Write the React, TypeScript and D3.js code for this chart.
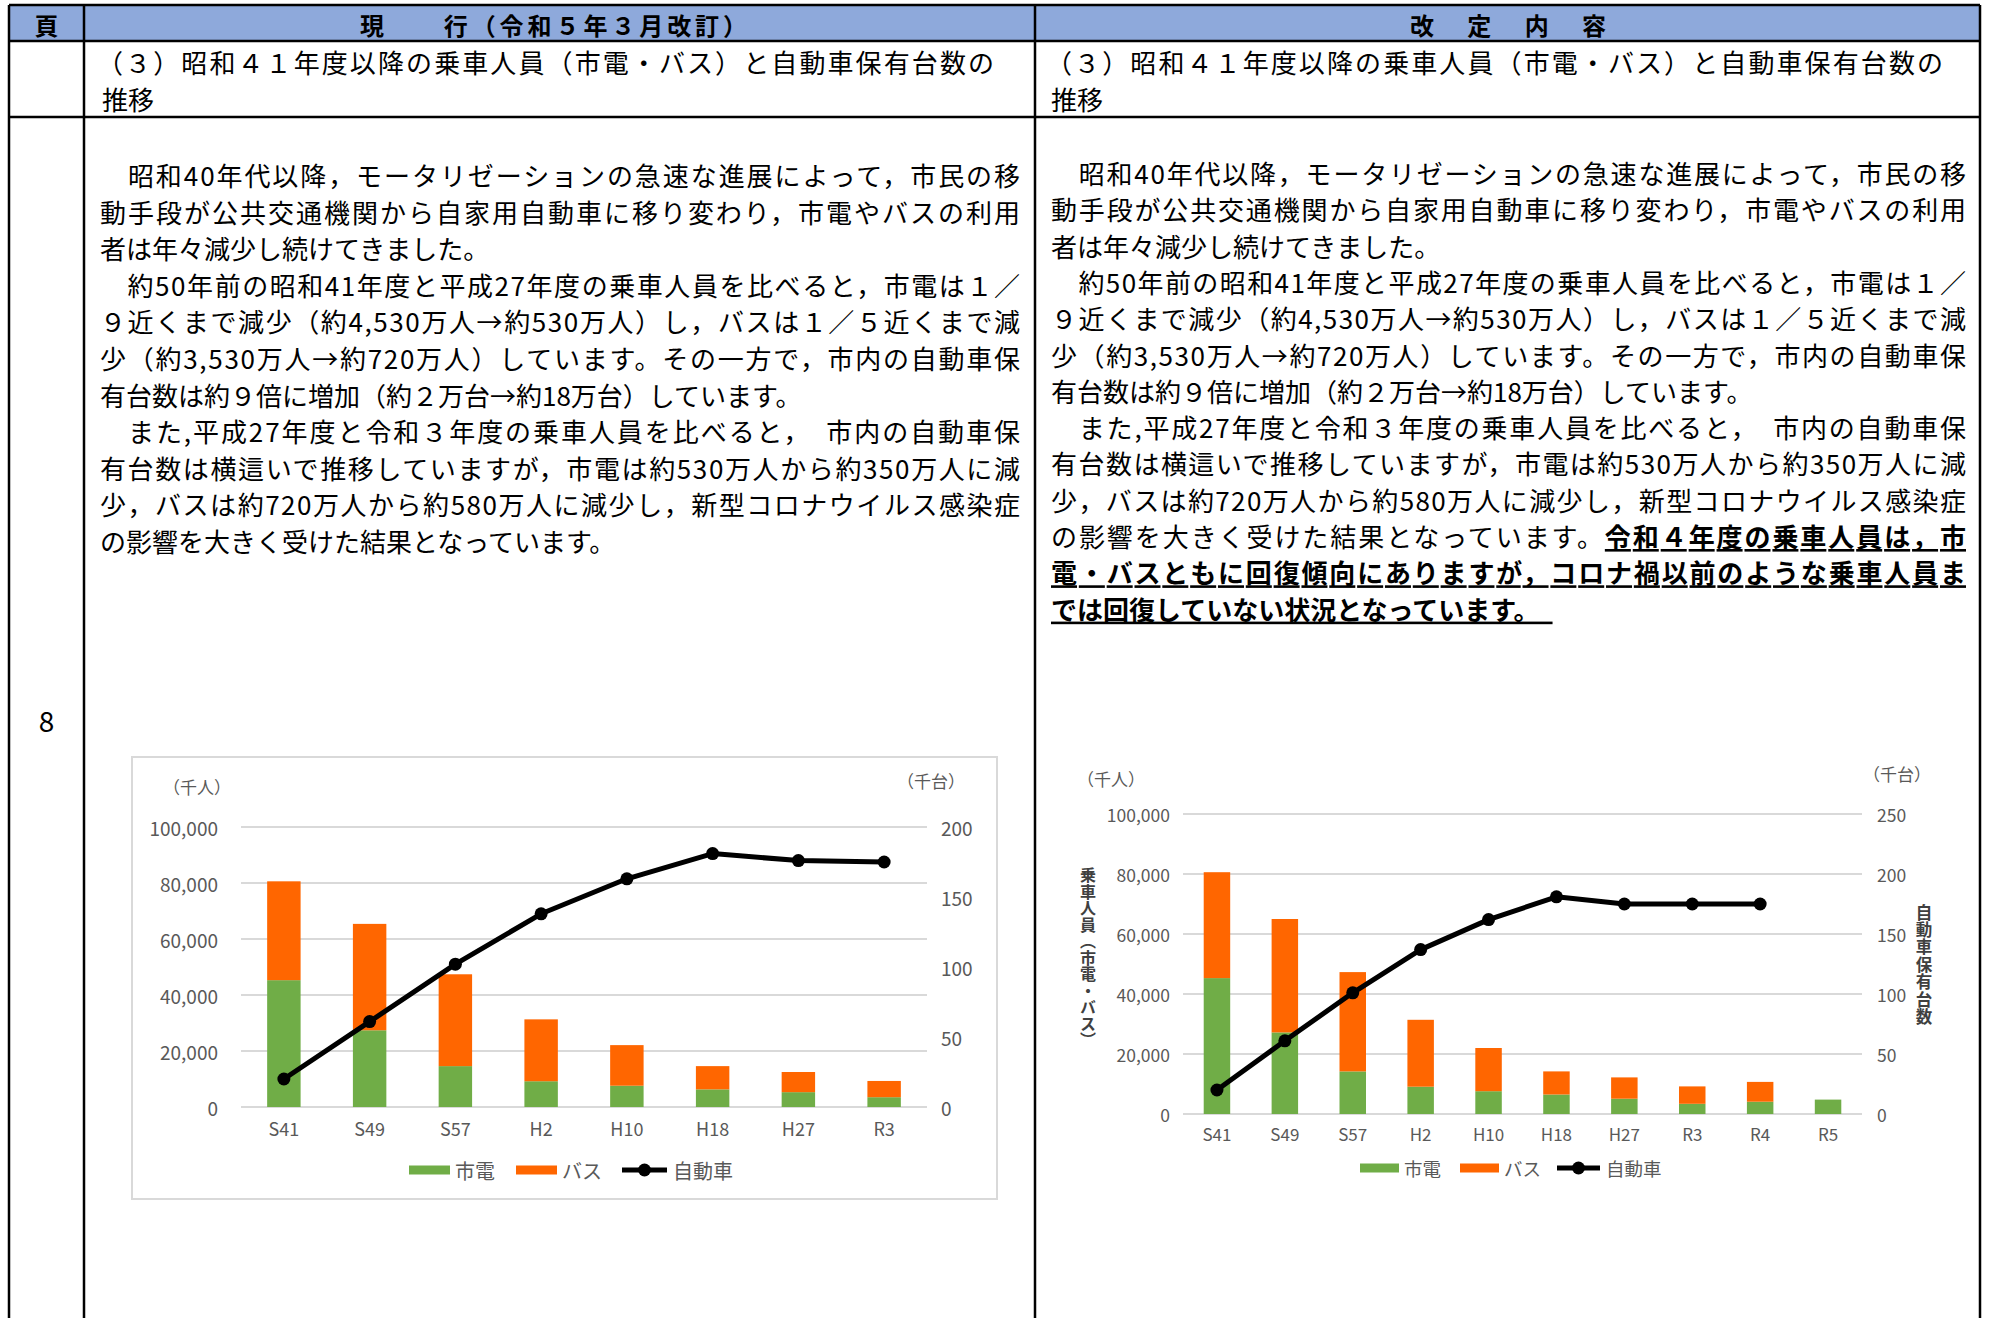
import { useEffect, useRef } from 'react';
import * as d3 from 'd3';

const W = 1991;
const H = 1318;
const JP = '"Noto Sans CJK JP", "Noto Sans", sans-serif';
const GREEN = '#70AD47';
const ORANGE = '#FF6600';
const GRID = '#D9D9D9';
const TICK = '#595959';

// 現行 chart (S41 - R3)
const yearsOld = ['S41', 'S49', 'S57', 'H2', 'H10', 'H18', 'H27', 'R3'];
const tramOld = [45300, 27400, 14600, 9200, 7600, 6300, 5300, 3500];
const busOld = [35300, 38000, 32800, 22100, 14500, 8300, 7200, 5800];
const carsOld = [20, 61, 102, 138, 163, 181, 176, 175];

// 改定 chart (S41 - R5)
const yearsNew = ['S41', 'S49', 'S57', 'H2', 'H10', 'H18', 'H27', 'R3', 'R4', 'R5'];
const tramNew = [45300, 27200, 14200, 9100, 7600, 6500, 5100, 3400, 4100, 4800];
const busNew = [35300, 37800, 33100, 22300, 14400, 7700, 7100, 5800, 6600, 0];
const carsNew: (number | null)[] = [20, 61, 101, 137, 162, 181, 175, 175, 175, null];

const leftTicks = [0, 20000, 40000, 60000, 80000, 100000];

const seriesNames = ['市電', 'バス', '自動車'];

// body text, one entry per printed line
const bodyPara1 = [
  '　昭和40年代以降，モータリゼーションの急速な進展によって，市民の移',
  '動手段が公共交通機関から自家用自動車に移り変わり，市電やバスの利用',
  '者は年々減少し続けてきました。',
];
const bodyPara2 = [
  '　約50年前の昭和41年度と平成27年度の乗車人員を比べると，市電は１／',
  '９近くまで減少（約4,530万人→約530万人）し，バスは１／５近くまで減',
  '少（約3,530万人→約720万人）しています。その一方で，市内の自動車保',
  '有台数は約９倍に増加（約２万台→約18万台）しています。',
];
const bodyPara3 = [
  '　また,平成27年度と令和３年度の乗車人員を比べると，　市内の自動車保',
  '有台数は横這いで推移していますが，市電は約530万人から約350万人に減',
  '少，バスは約720万人から約580万人に減少し，新型コロナウイルス感染症',
  'の影響を大きく受けた結果となっています。',
];
const addedText = [
  '令和４年度の乗車人員は，市',
  '電・バスともに回復傾向にありますが，コロナ禍以前のような乗車人員ま',
  'では回復していない状況となっています。　',
];

const titleLine1 = '（３）昭和４１年度以降の乗車人員（市電・バス）と自動車保有台数の';
const titleLine2 = '推移';

const axisTitleLeft = '乗車人員（市電・バス）';
const axisTitleRight = '自動車保有台数';

interface ChartOpts {
  years: string[];
  tram: number[];
  bus: number[];
  cars: (number | null)[];
  x0: number;
  x1: number;
  yTop: number;
  yBot: number;
  rightMax: number;
  leftLabelX: number;
  rightLabelX: number;
  tickSize: number;
  xLabelY: number;
  xLabelSize: number;
  unitL: [number, number];
  unitR: [number, number];
  legendY: number;
  legendX: [number, number, number]; // swatch starts
  swatchW: number;
  legendSize: number;
}

type Sel = d3.Selection<SVGGElement, unknown, null, undefined>;

function drawChart(root: Sel, o: ChartOpts) {
  const g = root.append('g');
  const x = d3.scaleBand<string>().domain(o.years).range([o.x0, o.x1])
    .paddingInner(0.61).paddingOuter(0.305);
  const y = d3.scaleLinear().domain([0, 100000]).range([o.yBot, o.yTop]);
  const y2 = d3.scaleLinear().domain([0, o.rightMax]).range([o.yBot, o.yTop]);
  const cx = (k: string) => (x(k) ?? 0) + x.bandwidth() / 2;

  // gridlines
  g.selectAll('line.grid').data(leftTicks).join('line')
    .attr('x1', o.x0).attr('x2', o.x1)
    .attr('y1', d => y(d)).attr('y2', d => y(d))
    .attr('stroke', GRID).attr('stroke-width', 2);

  // left axis labels
  g.selectAll('text.yl').data(leftTicks).join('text')
    .attr('x', o.leftLabelX).attr('y', d => y(d))
    .attr('text-anchor', 'end').attr('dominant-baseline', 'central')
    .attr('font-size', o.tickSize).attr('fill', TICK)
    .text(d => d3.format(',')(d));

  // right axis labels
  const rTicks = d3.range(0, o.rightMax + 1, 50);
  g.selectAll('text.yr').data(rTicks).join('text')
    .attr('x', o.rightLabelX).attr('y', d => y2(d))
    .attr('dominant-baseline', 'central')
    .attr('font-size', o.tickSize).attr('fill', TICK)
    .text(d => d);

  // units
  g.append('text').attr('x', o.unitL[0]).attr('y', o.unitL[1])
    .attr('text-anchor', 'middle').attr('dominant-baseline', 'central')
    .attr('font-size', 17).attr('fill', TICK).text('（千人）');
  g.append('text').attr('x', o.unitR[0]).attr('y', o.unitR[1])
    .attr('text-anchor', 'middle').attr('dominant-baseline', 'central')
    .attr('font-size', 17).attr('fill', TICK).text('（千台）');

  // stacked bars
  const rows = o.years.map((yr, i) => ({ yr, tram: o.tram[i], bus: o.bus[i] }));
  const stacked = d3.stack<{ yr: string; tram: number; bus: number }>()
    .keys(['tram', 'bus'])(rows);
  g.selectAll('g.series').data(stacked).join('g')
    .attr('fill', d => (d.key === 'tram' ? GREEN : ORANGE))
    .selectAll('rect').data(d => d).join('rect')
    .attr('x', d => x(d.data.yr) ?? 0)
    .attr('width', x.bandwidth())
    .attr('y', d => y(d[1]))
    .attr('height', d => y(d[0]) - y(d[1]));

  // cars line
  const pts = o.years
    .map((yr, i) => ({ yr, v: o.cars[i] }))
    .filter(p => p.v != null) as { yr: string; v: number }[];
  const line = d3.line<{ yr: string; v: number }>().x(d => cx(d.yr)).y(d => y2(d.v));
  g.append('path').datum(pts).attr('d', line)
    .attr('fill', 'none').attr('stroke', '#000').attr('stroke-width', 5)
    .attr('stroke-linejoin', 'round');
  g.selectAll('circle.pt').data(pts).join('circle')
    .attr('cx', d => cx(d.yr)).attr('cy', d => y2(d.v)).attr('r', 6.5).attr('fill', '#000');

  // x labels
  g.selectAll('text.xl').data(o.years).join('text')
    .attr('x', d => cx(d)).attr('y', o.xLabelY)
    .attr('text-anchor', 'middle').attr('dominant-baseline', 'central')
    .attr('font-size', o.xLabelSize).attr('fill', TICK)
    .text(d => d);

  // legend
  const lg = g.append('g');
  const [gx, ox, lx] = o.legendX;
  lg.append('rect').attr('x', gx).attr('y', o.legendY - 4.5).attr('width', o.swatchW).attr('height', 9).attr('fill', GREEN);
  lg.append('rect').attr('x', ox).attr('y', o.legendY - 4.5).attr('width', o.swatchW).attr('height', 9).attr('fill', ORANGE);
  lg.append('line').attr('x1', lx).attr('x2', lx + o.swatchW + 4)
    .attr('y1', o.legendY).attr('y2', o.legendY).attr('stroke', '#000').attr('stroke-width', 5);
  lg.append('circle').attr('cx', lx + (o.swatchW + 4) / 2).attr('cy', o.legendY).attr('r', 6.5).attr('fill', '#000');
  [gx + o.swatchW + 5, ox + o.swatchW + 5, lx + o.swatchW + 10].forEach((tx, i) => {
    lg.append('text').attr('x', tx).attr('y', o.legendY)
      .attr('dominant-baseline', 'central').attr('font-size', o.legendSize).attr('fill', TICK)
      .text(seriesNames[i]);
  });
}

// vertical axis title as one text run
function drawVertical(root: Sel, text: string, x: number, yMid: number, fs: number, gap: number) {
  root.append('text').attr('x', x).attr('y', yMid)
    .attr('text-anchor', 'middle')
    .style('writing-mode', 'vertical-rl')
    .style('letter-spacing', `${gap}px`)
    .attr('font-size', fs).attr('font-weight', 700).attr('fill', '#404040')
    .text(text);
}

function drawBody(root: Sel, x0: number, x1: number, yStart: number, step: number, withAdded: boolean) {
  const fs = 26;
  const lines: { parts: { t: string; b?: boolean }[]; justify: boolean }[] = [];
  [bodyPara1, bodyPara2, bodyPara3].forEach((p, pi) => {
    p.forEach((t, i) => lines.push({ parts: [{ t }], justify: i < p.length - 1 }));
    if (pi === 2 && withAdded) {
      const last = lines[lines.length - 1];
      last.parts.push({ t: addedText[0], b: true });
      last.justify = true;
      lines.push({ parts: [{ t: addedText[1], b: true }], justify: true });
      lines.push({ parts: [{ t: addedText[2], b: true }], justify: false });
    }
  });
  lines.forEach((ln, i) => {
    const t = root.append('text')
      .attr('x', x0).attr('y', yStart + i * step)
      .attr('dominant-baseline', 'central')
      .attr('font-size', fs).attr('fill', '#000');
    if (ln.justify) t.attr('textLength', x1 - x0).attr('lengthAdjust', 'spacing');
    ln.parts.forEach(p => {
      const ts = t.append('tspan').text(p.t);
      if (p.b) ts.attr('font-weight', 700).style('text-decoration', 'underline');
    });
  });
}

export default function App() {
  const svgRef = useRef<SVGSVGElement>(null);

  useEffect(() => {
    document.body.style.margin = '0';
    const svg = d3.select(svgRef.current);
    svg.selectAll('*').remove();
    const root = svg.append('g').attr('font-family', JP) as unknown as Sel;

    // table frame
    const cL = 9, c1 = 84, c2 = 1035, cR = 1980;
    const rT = 5, r1 = 41, r2 = 117;
    root.append('rect').attr('x', cL).attr('y', rT).attr('width', cR - cL).attr('height', r1 - rT).attr('fill', '#8EA9DB');
    const lw = 2.5;
    [[cL, rT, cL, H], [c1, rT, c1, H], [c2, rT, c2, H], [cR, rT, cR, H],
     [cL, rT, cR, rT], [cL, r1, cR, r1], [cL, r2, cR, r2]].forEach(([a, b, c, d]) => {
      root.append('line').attr('x1', a).attr('y1', b).attr('x2', c).attr('y2', d)
        .attr('stroke', '#000').attr('stroke-width', lw);
    });

    // header
    const hy = (rT + r1) / 2 + 1;
    root.append('text').attr('x', (cL + c1) / 2).attr('y', hy).attr('text-anchor', 'middle')
      .attr('dominant-baseline', 'central').attr('font-size', 24).attr('font-weight', 700).text('頁');
    root.append('text').attr('x', 360).attr('y', hy)
      .attr('dominant-baseline', 'central').attr('font-size', 24).attr('font-weight', 700)
      .attr('textLength', 387).attr('lengthAdjust', 'spacing').text('現　　行（令和５年３月改訂）');
    root.append('text').attr('x', 1410).attr('y', hy)
      .attr('dominant-baseline', 'central').attr('font-size', 24).attr('font-weight', 700)
      .attr('textLength', 196).attr('lengthAdjust', 'spacing').text('改　定　内　容');

    // section titles
    [[97, 994], [1046, 1943]].forEach(([a, b]) => {
      root.append('text').attr('x', a).attr('y', 61).attr('dominant-baseline', 'central')
        .attr('font-size', 26).attr('textLength', b - a).attr('lengthAdjust', 'spacing').text(titleLine1);
      root.append('text').attr('x', a + 5).attr('y', 98).attr('dominant-baseline', 'central')
        .attr('font-size', 26).text(titleLine2);
    });

    // page number
    root.append('text').attr('x', (cL + c1) / 2).attr('y', 720).attr('text-anchor', 'middle')
      .attr('dominant-baseline', 'central').attr('font-size', 28).text('8');

    // body text
    drawBody(root, 100, 1020, 174, 36.6, false);
    drawBody(root, 1051, 1966, 172, 36.3, true);

    // left chart box
    root.append('rect').attr('x', 132).attr('y', 757).attr('width', 865).attr('height', 442)
      .attr('fill', '#fff').attr('stroke', GRID).attr('stroke-width', 2);

    drawChart(root, {
      years: yearsOld, tram: tramOld, bus: busOld, cars: carsOld,
      x0: 241, x1: 927, yTop: 827, yBot: 1107, rightMax: 200,
      leftLabelX: 218, rightLabelX: 941, tickSize: 19,
      xLabelY: 1128, xLabelSize: 18,
      unitL: [197, 786], unitR: [931, 780],
      legendY: 1170, legendX: [409, 516, 622], swatchW: 41, legendSize: 20,
    });

    drawChart(root, {
      years: yearsNew, tram: tramNew, bus: busNew, cars: carsNew,
      x0: 1183, x1: 1862, yTop: 814, yBot: 1114, rightMax: 250,
      leftLabelX: 1170, rightLabelX: 1877, tickSize: 17.5,
      xLabelY: 1133, xLabelSize: 17,
      unitL: [1111, 778], unitR: [1897, 773],
      legendY: 1168, legendX: [1360, 1460, 1557], swatchW: 39, legendSize: 18.5,
    });

    // vertical axis titles of the revised chart
    drawVertical(root, axisTitleLeft, 1088, 958, 16, 0.5);
    drawVertical(root, axisTitleRight, 1924, 965, 16.5, 0.9);
  }, []);

  return (
    <div style={{ width: W, height: H, overflow: 'hidden' }}>
      <svg ref={svgRef} width={W} height={H} style={{ display: 'block', background: '#fff' }} />
    </div>
  );
}
